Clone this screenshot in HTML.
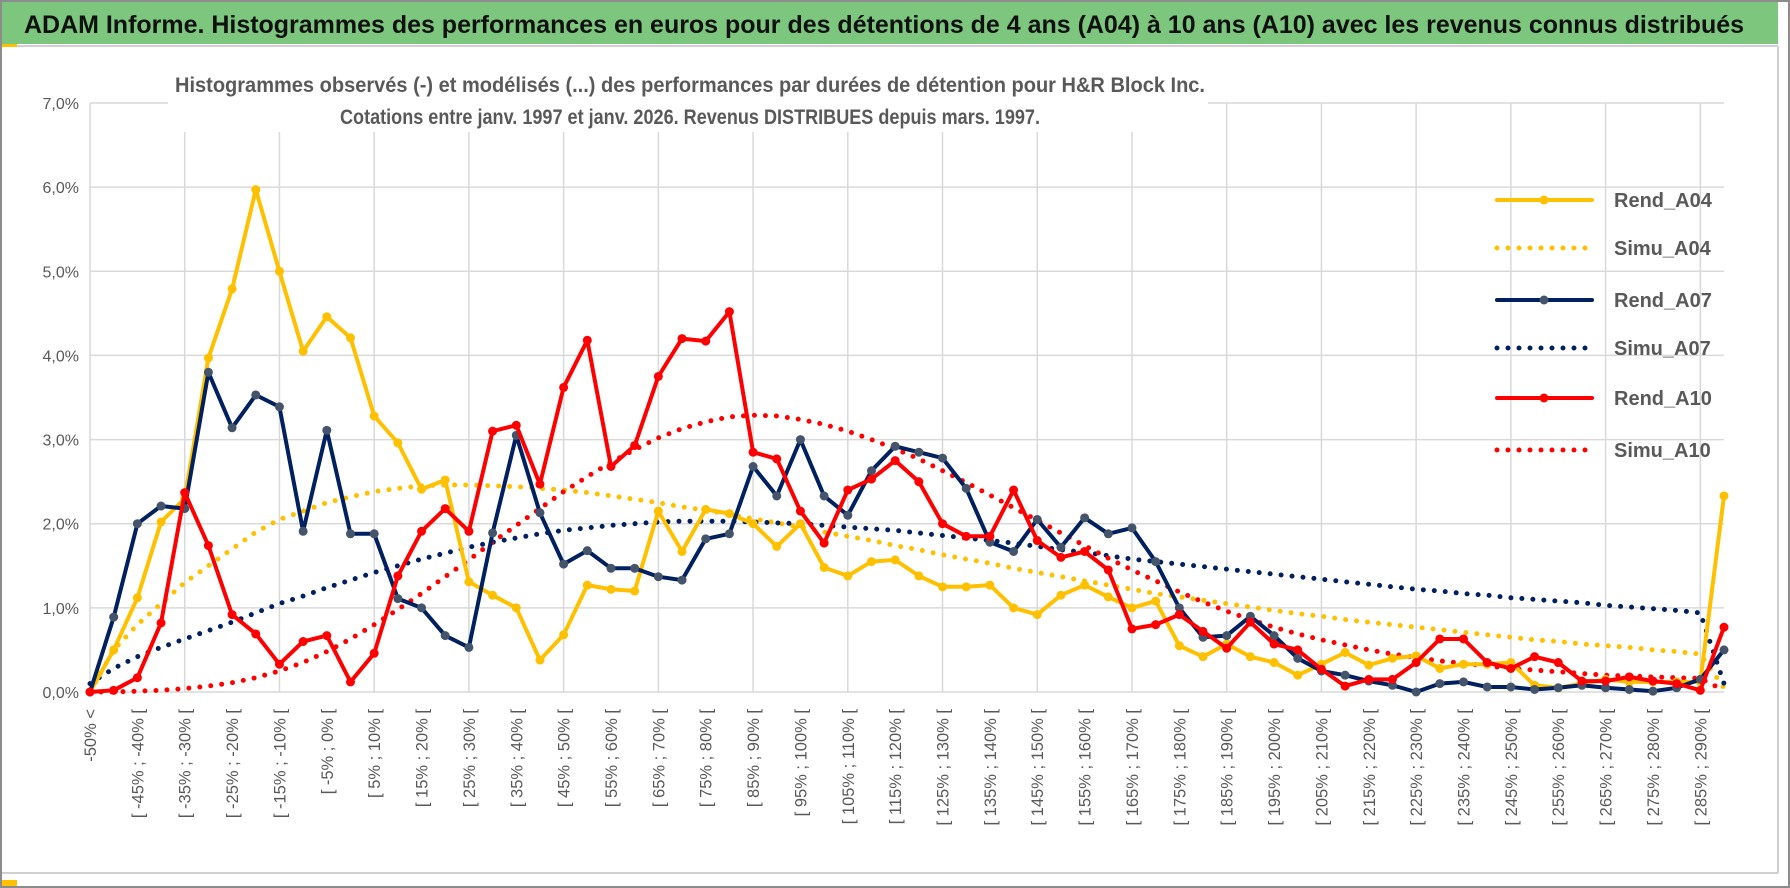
<!DOCTYPE html>
<html><head><meta charset="utf-8"><style>
html,body{margin:0;padding:0;background:#fff;}
svg{display:block;font-family:"Liberation Sans",sans-serif;}
</style></head><body>
<svg id="chart" width="1790" height="888" viewBox="0 0 1790 888" xmlns="http://www.w3.org/2000/svg">
<rect x="0" y="0" width="1790" height="888" fill="#fff"/>
<rect x="1" y="1" width="1788" height="886" fill="none" stroke="#8c8c8c" stroke-width="2"/>
<rect x="2" y="2" width="1776" height="42" fill="#7dc67e"/>
<line x1="2" y1="46" x2="1778" y2="46" stroke="#d0d0d0" stroke-width="2"/>
<rect x="2" y="44" width="15" height="3" fill="#ffc000"/>
<text x="24" y="33" font-size="25" font-weight="bold" fill="#111" textLength="1720" lengthAdjust="spacingAndGlyphs">ADAM Informe. Histogrammes des performances en euros pour des détentions de 4 ans (A04) à 10 ans (A10) avec les revenus connus distribués</text>
<line x1="1778" y1="46" x2="1778" y2="873" stroke="#d0d0d0" stroke-width="2"/>
<line x1="2" y1="873" x2="1778" y2="873" stroke="#d0d0d0" stroke-width="2"/>
<rect x="2" y="880" width="15" height="6" fill="#ffc000"/>
<g id="grid"></g>
<rect x="168" y="68" width="1040" height="64" fill="#fff"/>
<text x="690" y="92" font-size="21" font-weight="bold" fill="#595959" text-anchor="middle" textLength="1030" lengthAdjust="spacingAndGlyphs">Histogrammes observés (-) et modélisés (...) des performances par durées de détention pour H&amp;R Block Inc.</text>
<text x="690" y="124" font-size="21" font-weight="bold" fill="#595959" text-anchor="middle" textLength="700" lengthAdjust="spacingAndGlyphs">Cotations entre janv. 1997 et janv. 2026. Revenus DISTRIBUES depuis mars. 1997.</text>
<g id="axes"></g>
<g id="series"></g>
<g id="legend"></g>
</svg>
<script>
const categories = ["-50% <"];
for (let k = 1; k < 70; k++) { const a = -50 + 5 * (k - 1); categories.push("[ " + a + "% ; " + (a + 5) + "% ["); }
const yTicks = [0,1,2,3,4,5,6,7];
const yTickLabels = ["0,0%","1,0%","2,0%","3,0%","4,0%","5,0%","6,0%","7,0%"];
const seriesNames = ["Rend_A04","Simu_A04","Rend_A07","Simu_A07","Rend_A10","Simu_A10"];
const rendA04 = [0,0.5,1.12,2.02,2.3,3.97,4.79,5.97,5.0,4.05,4.46,4.21,3.28,2.96,2.41,2.52,1.31,1.15,1.0,0.38,0.68,1.27,1.22,1.2,2.15,1.67,2.17,2.12,2.0,1.73,2.0,1.48,1.38,1.55,1.57,1.38,1.25,1.25,1.27,1.0,0.92,1.15,1.27,1.13,1.0,1.08,0.55,0.42,0.57,0.42,0.35,0.2,0.33,0.47,0.32,0.4,0.43,0.28,0.33,0.33,0.35,0.08,0.05,0.1,0.15,0.12,0.12,0.12,0.12,2.33];
const simuA04 = [0,0.5,0.8,1.05,1.3,1.5,1.7,1.9,2.05,2.15,2.25,2.32,2.38,2.42,2.45,2.46,2.46,2.45,2.44,2.42,2.4,2.37,2.33,2.29,2.25,2.2,2.16,2.11,2.06,2.01,1.96,1.9,1.85,1.8,1.74,1.69,1.63,1.58,1.53,1.47,1.42,1.37,1.32,1.27,1.22,1.17,1.13,1.09,1.05,1.01,0.97,0.93,0.9,0.86,0.83,0.8,0.77,0.74,0.71,0.68,0.65,0.62,0.6,0.57,0.55,0.53,0.5,0.48,0.45,0.05];
const rendA07 = [0,0.89,2.0,2.21,2.18,3.8,3.14,3.53,3.39,1.91,3.11,1.88,1.88,1.11,1.0,0.67,0.53,1.89,3.05,2.13,1.52,1.68,1.47,1.47,1.37,1.33,1.82,1.88,2.68,2.33,3.0,2.33,2.1,2.63,2.92,2.85,2.78,2.42,1.78,1.67,2.05,1.72,2.07,1.88,1.95,1.55,1.0,0.65,0.67,0.9,0.67,0.4,0.25,0.2,0.13,0.08,0.0,0.1,0.12,0.06,0.06,0.03,0.05,0.08,0.05,0.03,0.01,0.05,0.15,0.5];
const simuA07 = [0.1,0.28,0.42,0.53,0.63,0.73,0.83,0.94,1.05,1.14,1.24,1.33,1.42,1.5,1.58,1.65,1.72,1.78,1.83,1.88,1.92,1.95,1.98,2.0,2.02,2.03,2.03,2.03,2.02,2.01,2.0,1.98,1.96,1.94,1.92,1.89,1.86,1.83,1.8,1.77,1.73,1.69,1.66,1.62,1.58,1.55,1.52,1.49,1.46,1.43,1.4,1.37,1.34,1.31,1.28,1.25,1.22,1.2,1.17,1.15,1.12,1.1,1.08,1.06,1.03,1.01,0.99,0.97,0.94,0.1];
const rendA10 = [0,0.02,0.17,0.82,2.37,1.74,0.92,0.69,0.33,0.6,0.67,0.12,0.46,1.38,1.91,2.18,1.91,3.1,3.17,2.47,3.62,4.18,2.68,2.93,3.75,4.2,4.17,4.52,2.85,2.77,2.15,1.77,2.4,2.53,2.75,2.5,2.0,1.85,1.85,2.4,1.8,1.6,1.67,1.45,0.75,0.8,0.92,0.72,0.52,0.83,0.57,0.5,0.27,0.07,0.15,0.15,0.35,0.63,0.63,0.35,0.28,0.42,0.35,0.13,0.13,0.18,0.13,0.1,0.02,0.77];
const simuA10 = [0,0,0.01,0.02,0.04,0.07,0.11,0.17,0.25,0.35,0.48,0.63,0.8,0.98,1.17,1.37,1.57,1.78,1.98,2.18,2.38,2.56,2.73,2.88,3.02,3.13,3.21,3.27,3.29,3.28,3.24,3.18,3.1,3.0,2.89,2.77,2.63,2.49,2.34,2.19,2.04,1.89,1.74,1.59,1.45,1.32,1.19,1.07,0.96,0.86,0.77,0.69,0.62,0.56,0.5,0.45,0.41,0.37,0.34,0.31,0.28,0.26,0.24,0.22,0.2,0.19,0.18,0.17,0.16,0.02];

const NS = "http://www.w3.org/2000/svg";
const X0 = 90, XN = 1724, Y0 = 692, Y7 = 103;
const xScale = i => X0 + i * (XN - X0) / (categories.length - 1);
const yScale = v => Y0 - v * (Y0 - Y7) / 7;
function mk(tag, attrs, parent) { const e = document.createElementNS(NS, tag); for (const k in attrs) e.setAttribute(k, attrs[k]); parent.appendChild(e); return e; }

const grid = document.getElementById("grid");
yTicks.forEach(t => {
  const l = mk("line", {x1: X0, x2: XN, y1: yScale(t), y2: yScale(t), stroke: "#d9d9d9", "stroke-width": 1.5}, grid);
  
  
});
for (let i = 0; i < categories.length; i += 4) {
  const l = mk("line", {x1: xScale(i), x2: xScale(i), y1: Y7, y2: Y0, stroke: "#d9d9d9", "stroke-width": 1.5}, grid);
  
  
}
const axes = document.getElementById("axes");
yTicks.forEach((t, k) => {
  const tx = mk("text", {x: 79, y: yScale(t) + 6, "font-size": 16, fill: "#595959", "text-anchor": "end"}, axes);
  tx.textContent = yTickLabels[k];
  
  
});
categories.forEach((c, i) => {
  if (i % 2 !== 0) return;
  const x = xScale(i) + 6, y = 709;
  const tx = mk("text", {x: x, y: y, "font-size": 16.5, fill: "#595959", "text-anchor": "end", transform: "rotate(-90 " + x + " " + y + ")"}, axes);
  tx.textContent = c;
  
  
});

const seriesG = document.getElementById("series");
const styles = [
  {data: rendA04, color: "#ffc000", marker: "#ffc000", dotted: false},
  {data: simuA04, color: "#ffc000", dotted: true},
  {data: rendA07, color: "#002060", marker: "#44546a", dotted: false},
  {data: simuA07, color: "#002060", dotted: true},
  {data: rendA10, color: "#ff0000", marker: "#ff0000", dotted: false},
  {data: simuA10, color: "#ff0000", dotted: true}
];
const drawOrder = [1, 3, 5, 0, 2, 4];
drawOrder.forEach(s => {
  const st = styles[s];
  const pts = st.data.map((v, i) => xScale(i).toFixed(1) + "," + yScale(v).toFixed(1)).join(" ");
  const pl = mk("polyline", {points: pts, fill: "none", stroke: st.color, "stroke-width": st.dotted ? 5 : 4, "stroke-linejoin": "round", "stroke-linecap": "round"}, seriesG);
  if (st.dotted) pl.setAttribute("stroke-dasharray", "0 11");
  
  
  if (!st.dotted) {
    st.data.forEach((v, i) => {
      const c = mk("circle", {cx: xScale(i), cy: yScale(v), r: 4.5, fill: st.marker}, seriesG);
      
      
    });
  }
});

const legend = document.getElementById("legend");
const legendY = [200, 248, 300, 348, 398, 450];
seriesNames.forEach((n, k) => {
  const st = styles[k], y = legendY[k];
  const g = mk("g", {}, legend);
  
  
  const l = mk("line", {x1: 1497, x2: 1592, y1: y, y2: y, stroke: st.color, "stroke-width": st.dotted ? 5 : 4, "stroke-linecap": "round"}, g);
  if (st.dotted) l.setAttribute("stroke-dasharray", "0 11");
  if (!st.dotted) mk("circle", {cx: 1544, cy: y, r: 4.5, fill: st.marker}, g);
  const t = mk("text", {x: 1614, y: y + 7, "font-size": 20, "font-weight": "bold", fill: "#595959"}, g);
  t.textContent = n;
});
</script>
</body></html>
